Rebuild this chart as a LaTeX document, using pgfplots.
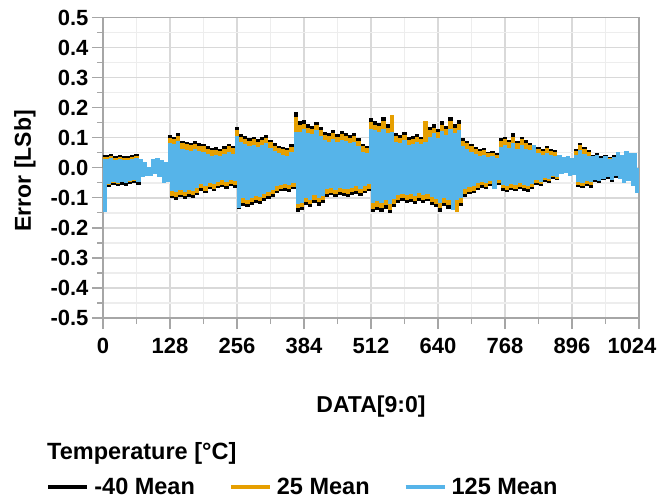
\documentclass[border=0pt]{standalone}
\usepackage{fontspec}
\setmainfont{Liberation Sans}
\usepackage{pgfplots}
\pgfplotsset{compat=1.18}
\usepackage{pgfplotstable}
\definecolor{cblack}{HTML}{000000}
\definecolor{corange}{HTML}{E69F00}
\definecolor{cblue}{HTML}{56B4E9}
\definecolor{gmaj}{HTML}{D9D9D9}
\definecolor{gmin}{HTML}{EDEDED}
\definecolor{axgray}{HTML}{A6A6A6}

% -40 C mean, alternating upper/lower excursions, one value every 4 codes
\pgfplotstableread[row sep=\\]{y\\
0.044\\-0.060\\0.042\\-0.064\\0.046\\-0.058\\0.040\\-0.062\\0.044\\-0.056\\0.039\\-0.060\\0.038\\-0.054\\0.042\\-0.052\\0.046\\-0.056\\
0.024\\-0.026\\0.012\\-0.022\\0.002\\-0.020\\0.020\\-0.018\\0.026\\-0.026\\0.020\\-0.044\\0.014\\-0.040\\
0.109\\-0.101\\0.104\\-0.106\\0.116\\-0.098\\0.089\\-0.104\\0.086\\-0.096\\0.084\\-0.100\\0.088\\-0.091\\0.082\\-0.076\\0.080\\-0.084\\0.072\\-0.072\\0.066\\-0.078\\0.068\\-0.068\\0.064\\-0.064\\0.072\\-0.070\\0.079\\-0.062\\0.074\\-0.066\\
0.134\\-0.136\\0.112\\-0.126\\0.106\\-0.131\\0.099\\-0.124\\0.104\\-0.116\\0.096\\-0.121\\0.102\\-0.110\\0.109\\-0.104\\0.094\\-0.098\\0.082\\-0.084\\0.074\\-0.078\\0.070\\-0.076\\0.066\\-0.080\\0.079\\-0.072\\0.184\\-0.146\\0.154\\-0.141\\
0.159\\-0.124\\0.144\\-0.131\\0.139\\-0.116\\0.152\\-0.126\\0.134\\-0.118\\0.119\\-0.096\\0.114\\-0.092\\0.124\\-0.098\\0.112\\-0.090\\0.122\\-0.094\\0.116\\-0.096\\0.109\\-0.091\\0.114\\-0.086\\0.099\\-0.094\\0.079\\-0.084\\0.074\\-0.078\\
0.164\\-0.148\\0.154\\-0.141\\0.149\\-0.146\\0.169\\-0.136\\0.144\\-0.151\\0.159\\-0.131\\0.114\\-0.116\\0.109\\-0.111\\0.119\\-0.118\\0.102\\-0.114\\0.106\\-0.121\\0.112\\-0.110\\0.104\\-0.116\\0.114\\-0.112\\0.134\\-0.124\\0.144\\-0.131\\
0.129\\-0.146\\0.154\\-0.128\\0.139\\-0.136\\0.169\\-0.124\\0.144\\-0.134\\0.159\\-0.126\\0.099\\-0.096\\0.089\\-0.088\\0.079\\-0.084\\0.069\\-0.074\\0.062\\-0.066\\0.066\\-0.070\\0.054\\-0.061\\0.056\\-0.064\\0.049\\-0.058\\0.099\\-0.076\\
0.104\\-0.081\\0.094\\-0.074\\0.114\\-0.078\\0.089\\-0.071\\0.104\\-0.076\\0.092\\-0.080\\0.084\\-0.072\\0.070\\-0.056\\0.069\\-0.061\\0.064\\-0.046\\0.072\\-0.051\\0.062\\-0.036\\0.059\\-0.041\\0.028\\-0.016\\0.022\\-0.012\\0.026\\-0.018\\
0.030\\-0.016\\0.064\\-0.064\\0.084\\-0.068\\0.069\\-0.061\\0.059\\-0.066\\0.044\\-0.046\\0.049\\-0.051\\0.039\\-0.041\\0.044\\-0.036\\0.036\\-0.046\\0.042\\-0.034\\0.024\\-0.031\\0.029\\-0.036\\0.024\\-0.041\\0.026\\-0.034\\0.022\\-0.036\\
}\tblack

% 25 C mean
\pgfplotstableread[row sep=\\]{y\\
0.037\\-0.053\\0.035\\-0.057\\0.039\\-0.050\\0.033\\-0.055\\0.037\\-0.049\\0.032\\-0.052\\0.031\\-0.047\\0.035\\-0.045\\0.039\\-0.049\\
0.020\\-0.022\\0.010\\-0.019\\0.000\\-0.017\\0.016\\-0.015\\0.022\\-0.022\\0.016\\-0.040\\0.010\\-0.036\\
0.100\\-0.093\\0.096\\-0.097\\0.107\\-0.090\\0.081\\-0.095\\0.078\\-0.088\\0.076\\-0.092\\0.080\\-0.083\\0.074\\-0.068\\0.072\\-0.076\\0.064\\-0.064\\0.058\\-0.070\\0.060\\-0.060\\0.057\\-0.057\\0.064\\-0.062\\0.071\\-0.055\\0.066\\-0.058\\
0.124\\-0.126\\0.102\\-0.116\\0.097\\-0.121\\0.090\\-0.114\\0.095\\-0.106\\0.087\\-0.111\\0.092\\-0.100\\0.099\\-0.094\\0.085\\-0.089\\0.073\\-0.076\\0.066\\-0.070\\0.062\\-0.068\\0.058\\-0.072\\0.070\\-0.064\\0.170\\-0.135\\0.143\\-0.130\\
0.147\\-0.113\\0.133\\-0.120\\0.128\\-0.106\\0.141\\-0.115\\0.124\\-0.108\\0.110\\-0.087\\0.105\\-0.083\\0.114\\-0.089\\0.103\\-0.081\\0.112\\-0.085\\0.107\\-0.087\\0.100\\-0.082\\0.105\\-0.077\\0.090\\-0.085\\0.071\\-0.076\\0.066\\-0.070\\
0.152\\-0.136\\0.143\\-0.130\\0.138\\-0.134\\0.157\\-0.125\\0.133\\-0.139\\0.174\\-0.120\\0.105\\-0.106\\0.100\\-0.102\\0.109\\-0.108\\0.094\\-0.105\\0.097\\-0.111\\0.103\\-0.101\\0.096\\-0.106\\0.154\\-0.103\\0.124\\-0.114\\0.133\\-0.120\\
0.119\\-0.135\\0.142\\-0.118\\0.128\\-0.125\\0.157\\-0.114\\0.133\\-0.146\\0.147\\-0.116\\0.090\\-0.087\\0.081\\-0.080\\0.071\\-0.076\\0.062\\-0.067\\0.055\\-0.059\\0.059\\-0.063\\0.048\\-0.055\\0.050\\-0.057\\0.043\\-0.052\\0.090\\-0.068\\
0.095\\-0.073\\0.086\\-0.066\\0.104\\-0.070\\0.081\\-0.064\\0.095\\-0.068\\0.084\\-0.072\\0.076\\-0.065\\0.064\\-0.050\\0.062\\-0.055\\0.057\\-0.041\\0.065\\-0.045\\0.055\\-0.031\\0.052\\-0.036\\0.024\\-0.013\\0.019\\-0.010\\0.022\\-0.015\\
0.026\\-0.013\\0.057\\-0.057\\0.076\\-0.061\\0.062\\-0.055\\0.053\\-0.059\\0.039\\-0.041\\0.043\\-0.045\\0.034\\-0.036\\0.039\\-0.031\\0.031\\-0.041\\0.037\\-0.029\\0.020\\-0.027\\0.025\\-0.031\\0.020\\-0.036\\0.022\\-0.029\\0.018\\-0.031\\
}\torange

% 125 C mean
\pgfplotstableread[row sep=\\]{y\\
0.030\\-0.146\\0.028\\-0.054\\0.032\\-0.048\\0.026\\-0.052\\0.030\\-0.046\\0.026\\-0.050\\0.025\\-0.044\\0.028\\-0.042\\0.032\\-0.046\\
0.030\\-0.030\\0.020\\-0.028\\0.004\\-0.026\\0.028\\-0.022\\0.034\\-0.032\\0.026\\-0.052\\0.020\\-0.046\\
0.082\\-0.078\\0.078\\-0.082\\0.088\\-0.075\\0.062\\-0.080\\0.059\\-0.073\\0.057\\-0.076\\0.061\\-0.068\\0.055\\-0.054\\0.053\\-0.061\\0.046\\-0.050\\0.040\\-0.055\\0.042\\-0.046\\0.038\\-0.042\\0.045\\-0.048\\0.052\\-0.040\\0.047\\-0.044\\
0.106\\-0.134\\0.085\\-0.102\\0.080\\-0.107\\0.072\\-0.100\\0.077\\-0.093\\0.069\\-0.097\\0.075\\-0.086\\0.081\\-0.081\\0.067\\-0.075\\0.056\\-0.062\\0.048\\-0.056\\0.044\\-0.054\\0.040\\-0.058\\0.052\\-0.050\\0.118\\-0.120\\0.120\\-0.116\\
0.128\\-0.100\\0.116\\-0.106\\0.111\\-0.092\\0.124\\-0.102\\0.106\\-0.094\\0.092\\-0.072\\0.087\\-0.068\\0.096\\-0.074\\0.085\\-0.066\\0.094\\-0.070\\0.089\\-0.072\\0.082\\-0.067\\0.087\\-0.062\\0.072\\-0.070\\0.053\\-0.060\\0.048\\-0.054\\
0.130\\-0.118\\0.126\\-0.112\\0.120\\-0.116\\0.128\\-0.108\\0.116\\-0.120\\0.120\\-0.104\\0.087\\-0.090\\0.082\\-0.086\\0.091\\-0.092\\0.076\\-0.088\\0.080\\-0.094\\0.085\\-0.085\\0.078\\-0.090\\0.086\\-0.087\\0.104\\-0.098\\0.114\\-0.104\\
0.100\\-0.116\\0.122\\-0.102\\0.109\\-0.108\\0.128\\-0.142\\0.114\\-0.106\\0.124\\-0.100\\0.072\\-0.070\\0.063\\-0.063\\0.054\\-0.060\\0.046\\-0.052\\0.040\\-0.046\\0.044\\-0.050\\0.036\\-0.044\\0.038\\-0.072\\0.032\\-0.042\\0.070\\-0.056\\
0.075\\-0.060\\0.066\\-0.054\\0.084\\-0.058\\0.062\\-0.052\\0.075\\-0.056\\0.064\\-0.060\\0.058\\-0.053\\0.076\\-0.042\\0.048\\-0.046\\0.044\\-0.034\\0.050\\-0.038\\0.042\\-0.026\\0.040\\-0.030\\0.042\\-0.022\\0.036\\-0.018\\0.040\\-0.028\\
0.034\\-0.024\\0.044\\-0.046\\0.058\\-0.050\\0.046\\-0.044\\0.040\\-0.048\\0.038\\-0.040\\0.042\\-0.044\\0.034\\-0.036\\0.038\\-0.030\\0.030\\-0.040\\0.036\\-0.028\\0.052\\-0.036\\0.044\\-0.052\\0.056\\-0.044\\0.048\\-0.060\\0.050\\-0.084\\
}\tblue

\begin{document}
\begin{tikzpicture}
\useasboundingbox (-103bp,-181bp) rectangle (557bp,318bp);
\begin{axis}[
  scale only axis, width=536bp, height=300.5bp,
  xmin=0, xmax=1024, ymin=-0.5, ymax=0.5,
  xtick={0,128,256,384,512,640,768,896,1024},
  xticklabels={0,128,256,384,512,640,768,896,{\hspace*{-14bp}1024}},
  minor xtick={64,192,320,448,576,704,832,960},
  ytick={-0.5,-0.4,-0.3,-0.2,-0.1,0,0.1,0.2,0.3,0.4,0.5},
  minor ytick={-0.45,-0.35,-0.25,-0.15,-0.05,0.05,0.15,0.25,0.35,0.45},
  grid=both,
  major grid style={draw=gmaj, line width=1.5bp},
  minor grid style={draw=gmin, line width=1.5bp},
  axis line style={draw=axgray, line width=1.5bp},
  tick style={draw=axgray, line width=1.3bp},
  tick align=outside,
  xtick pos=bottom, ytick pos=left,
  major tick length=11bp, minor tick length=6bp,
  ticklabel style={font=\fontsize{22bp}{26bp}\selectfont\bfseries},
  xticklabel style={yshift=-6bp},
  yticklabel style={/pgf/number format/.cd, fixed, fixed zerofill, precision=1, assume math mode=true},
  xlabel={DATA[9:0]}, ylabel={Error [LSb]},
  label style={font=\fontsize{23bp}{27bp}\selectfont\bfseries},
  xlabel style={at={(axis description cs:0.5,-0.296)}, anchor=center},
  ylabel style={at={(axis description cs:-0.1455,0.49)}, anchor=center},
  legend columns=3,
  legend cell align=left,
  legend style={at={(axis description cs:-0.106,-0.5624)}, anchor=west, draw=none, fill=none, inner sep=0pt,
    font=\fontsize{23.5bp}{27bp}\selectfont\bfseries,
    /tikz/every odd column/.append style={column sep=3bp},
    /tikz/every even column/.append style={column sep=32bp}},
  legend image code/.code={\draw[#1, line width=4bp, line cap=butt] (0bp,0bp) -- (39bp,0bp);},
  every axis plot/.append style={ycomb, line width=4.19bp, line cap=butt, mark=none},
]
\addplot[cblack] table[x expr=\coordindex*4, y=y] {\tblack};
\addlegendentry{-40 Mean}
\addplot[corange] table[x expr=\coordindex*4, y=y] {\torange};
\addlegendentry{25 Mean}
\addplot[cblue] table[x expr=\coordindex*4, y=y] {\tblue};
\addlegendentry{125 Mean}
\end{axis}
\node[anchor=base west, inner sep=0pt, font=\fontsize{23.5bp}{27bp}\selectfont\bfseries] at (-56bp,-141bp) {Temperature [°C]};
\end{tikzpicture}
\end{document}
